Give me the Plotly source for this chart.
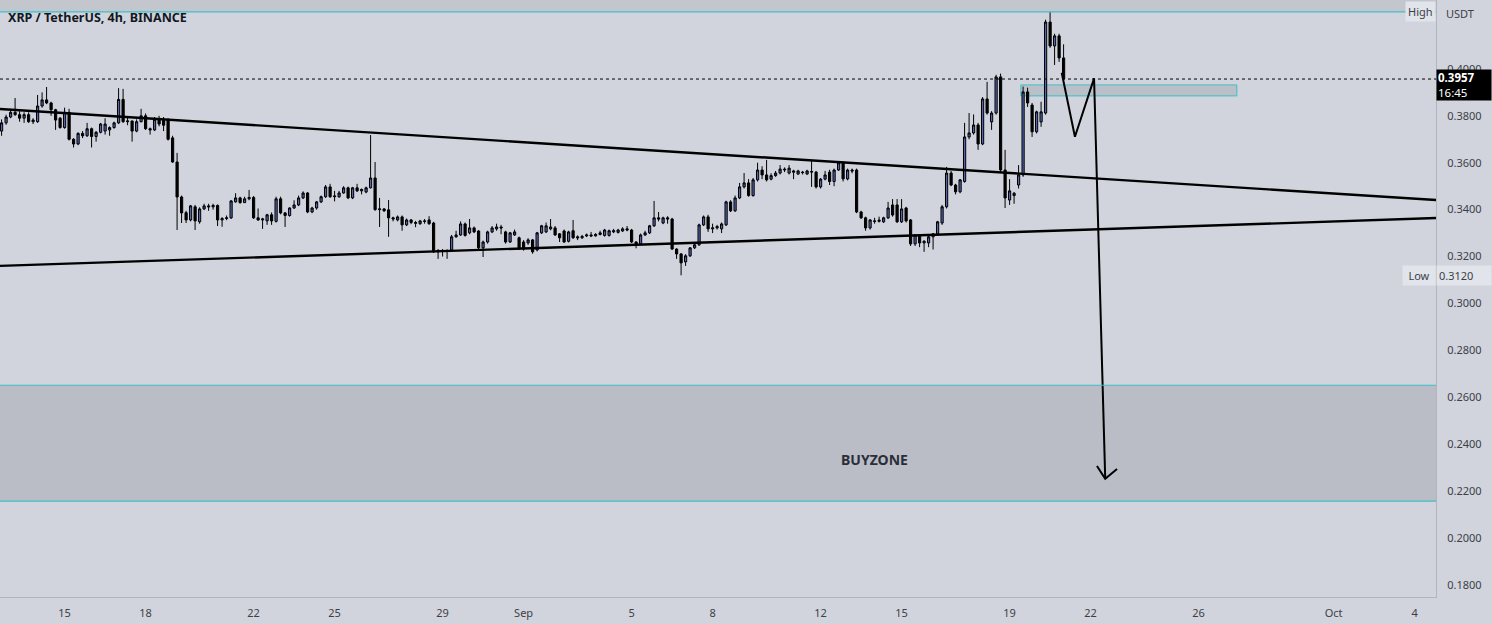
import pandas as pd
import plotly.graph_objects as go

# ---------------- data (XRP / USDT, 4h candles) ----------------
opens = [
    .3735, .3770, .3795, .3815, .3805, .3790, .3805, .3775, .3775, .3842,
    .3868, .3855, .3826, .3790, .3750, .3815, .3700, .3680, .3725, .3715,
    .3745, .3712, .3730, .3735, .3740, .3750, .3770, .3870, .3775, .3778,
    .3735, .3775, .3800, .3745, .3740, .3785, .3780, .3780, .3706, .3603,
    .3454, .3387, .3356, .3412, .3348, .3403, .3416, .3412, .3418, .3356,
    .3362, .3365, .3433, .3450, .3430, .3446, .3452, .3365, .3356, .3352,
    .3378, .3350, .3446, .3386, .3375, .3407, .3420, .3450, .3471, .3390,
    .3407, .3433, .3455, .3497, .3455, .3455, .3471, .3493, .3450, .3493,
    .3480, .3475, .3493, .3535, .3400, .3403, .3399, .3365, .3356, .3369,
    .3335, .3356, .3345, .3340, .3352, .3356, .3343, .3220, .3226, .3222,
    .3228, .3284, .3292, .3339, .3301, .3322, .3309, .3237, .3262, .3305,
    .3318, .3326, .3305, .3262, .3292, .3280, .3262, .3258, .3271, .3228,
    .3301, .3305, .3318, .3322, .3297, .3309, .3265, .3310, .3284, .3280,
    .3288, .3292, .3288, .3294, .3290, .3290, .3305, .3303, .3309, .3318,
    .3313, .3262, .3254, .3292, .3301, .3331, .3365, .3343, .3365, .3360,
    .3232, .3211, .3177, .3203, .3237, .3250, .3335, .3369, .3318, .3322,
    .3318, .3335, .3433, .3395, .3450, .3497, .3514, .3460, .3527, .3569,
    .3548, .3530, .3545, .3556, .3573, .3556, .3565, .3552, .3560, .3552,
    .3560, .3560, .3497, .3530, .3560, .3520, .3569, .3600, .3531, .3569,
    .3569, .3390, .3365, .3322, .3352, .3350, .3348, .3365, .3420, .3420,
    .3348, .3407, .3356, .3254, .3292, .3258, .3258, .3284, .3297, .3343,
    .3412, .3556, .3505, .3476, .3520, .3710, .3727, .3761, .3680, .3872,
    .3774, .3812, .3966, .3569, .3441, .3460, .3505, .3548, .3902, .3846,
    .3732, .3774, .3812, .4200, .4098, .4141, .4047,
]
highs = [
    .3785, .3805, .3830, .3876, .3820, .3815, .3815, .3790, .3889, .3900,
    .3923, .3860, .3830, .3795, .3835, .3830, .3705, .3730, .3735, .3770,
    .3750, .3735, .3770, .3790, .3755, .3775, .3918, .3915, .3795, .3780,
    .3785, .3830, .3810, .3750, .3795, .3800, .3795, .3790, .3715, .3642,
    .3460, .3395, .3420, .3420, .3410, .3425, .3425, .3425, .3422, .3368,
    .3375, .3441, .3470, .3455, .3455, .3484, .3458, .3405, .3365, .3382,
    .3388, .3455, .3455, .3390, .3410, .3440, .3460, .3478, .3475, .3412,
    .3437, .3460, .3505, .3510, .3480, .3480, .3500, .3498, .3497, .3510,
    .3490, .3498, .3718, .3603, .3450, .3407, .3441, .3370, .3375, .3375,
    .3362, .3360, .3352, .3356, .3360, .3372, .3348, .3232, .3232, .3230,
    .3292, .3310, .3350, .3345, .3360, .3328, .3312, .3268, .3310, .3330,
    .3340, .3335, .3310, .3305, .3315, .3285, .3270, .3278, .3275, .3305,
    .3335, .3345, .3360, .3330, .3300, .3315, .3310, .3356, .3290, .3292,
    .3298, .3305, .3300, .3310, .3318, .3315, .3318, .3318, .3325, .3330,
    .3318, .3265, .3298, .3310, .3335, .3437, .3390, .3370, .3372, .3365,
    .3235, .3215, .3210, .3240, .3258, .3340, .3375, .3378, .3340, .3335,
    .3345, .3438, .3440, .3460, .3514, .3556, .3530, .3535, .3600, .3585,
    .3612, .3555, .3565, .3590, .3580, .3590, .3570, .3570, .3565, .3570,
    .3612, .3565, .3535, .3565, .3570, .3575, .3605, .3605, .3575, .3575,
    .3575, .3395, .3370, .3360, .3365, .3370, .3370, .3433, .3445, .3445,
    .3445, .3412, .3360, .3296, .3296, .3270, .3288, .3300, .3352, .3420,
    .3582, .3565, .3510, .3530, .3770, .3812, .3806, .3770, .3880, .3945,
    .3820, .3975, .3980, .3655, .3530, .3475, .3590, .3925, .3920, .3855,
    .3822, .3860, .4210, .4243, .4150, .4150, .4105,
]
lows = [
    .3715, .3762, .3790, .3800, .3775, .3770, .3770, .3765, .3770, .3835,
    .3850, .3800, .3740, .3745, .3745, .3695, .3665, .3675, .3705, .3710,
    .3665, .3690, .3725, .3720, .3715, .3745, .3765, .3770, .3760, .3690,
    .3730, .3772, .3740, .3720, .3735, .3755, .3735, .3695, .3600, .3313,
    .3343, .3343, .3350, .3313, .3340, .3398, .3395, .3400, .3330, .3327,
    .3355, .3360, .3430, .3425, .3428, .3440, .3360, .3352, .3318, .3335,
    .3335, .3345, .3380, .3326, .3370, .3403, .3415, .3445, .3385, .3385,
    .3400, .3428, .3450, .3450, .3435, .3450, .3468, .3445, .3445, .3475,
    .3465, .3470, .3490, .3395, .3326, .3390, .3284, .3350, .3350, .3310,
    .3330, .3338, .3325, .3335, .3340, .3335, .3215, .3190, .3200, .3190,
    .3222, .3280, .3288, .3285, .3295, .3300, .3230, .3198, .3255, .3300,
    .3310, .3295, .3255, .3258, .3288, .3228, .3225, .3250, .3212, .3222,
    .3296, .3300, .3312, .3288, .3262, .3258, .3260, .3275, .3270, .3275,
    .3283, .3283, .3285, .3290, .3285, .3285, .3300, .3298, .3305, .3308,
    .3258, .3235, .3250, .3288, .3296, .3326, .3350, .3338, .3340, .3228,
    .3190, .3120, .3160, .3198, .3232, .3245, .3330, .3305, .3300, .3315,
    .3300, .3330, .3390, .3390, .3445, .3490, .3455, .3455, .3520, .3530,
    .3520, .3525, .3540, .3550, .3560, .3550, .3530, .3548, .3550, .3548,
    .3497, .3490, .3490, .3525, .3505, .3500, .3565, .3520, .3525, .3555,
    .3385, .3360, .3310, .3315, .3340, .3345, .3343, .3360, .3370, .3343,
    .3343, .3345, .3245, .3245, .3240, .3220, .3240, .3230, .3292, .3335,
    .3405, .3500, .3465, .3470, .3515, .3700, .3720, .3655, .3675, .3805,
    .3740, .3805, .3560, .3407, .3420, .3425, .3490, .3540, .3838, .3710,
    .3725, .3753, .3805, .4090, .4017, .4030, .3950,
]
closes = [
    .3770, .3795, .3815, .3805, .3790, .3805, .3775, .3782, .3842, .3868,
    .3855, .3826, .3782, .3750, .3815, .3700, .3680, .3725, .3715, .3745,
    .3712, .3730, .3765, .3765, .3750, .3770, .3870, .3775, .3778, .3735,
    .3775, .3800, .3745, .3740, .3785, .3765, .3760, .3700, .3603, .3454,
    .3386, .3356, .3416, .3352, .3403, .3416, .3412, .3418, .3356, .3362,
    .3365, .3437, .3450, .3430, .3446, .3452, .3365, .3356, .3360, .3378,
    .3352, .3446, .3386, .3375, .3407, .3420, .3450, .3471, .3390, .3407,
    .3433, .3455, .3497, .3455, .3458, .3471, .3493, .3450, .3493, .3480,
    .3486, .3493, .3535, .3400, .3403, .3395, .3365, .3360, .3369, .3335,
    .3356, .3345, .3342, .3352, .3350, .3340, .3220, .3226, .3222, .3226,
    .3284, .3292, .3339, .3290, .3322, .3305, .3237, .3262, .3305, .3322,
    .3326, .3322, .3262, .3301, .3305, .3232, .3232, .3271, .3220, .3301,
    .3331, .3331, .3326, .3292, .3280, .3262, .3305, .3280, .3280, .3286,
    .3292, .3288, .3294, .3301, .3313, .3310, .3310, .3313, .3318, .3313,
    .3262, .3254, .3292, .3301, .3331, .3365, .3360, .3365, .3360, .3232,
    .3211, .3173, .3203, .3237, .3250, .3335, .3369, .3318, .3322, .3328,
    .3339, .3433, .3395, .3450, .3497, .3514, .3460, .3527, .3569, .3548,
    .3527, .3545, .3556, .3573, .3570, .3577, .3560, .3565, .3558, .3565,
    .3562, .3497, .3530, .3548, .3520, .3569, .3600, .3531, .3569, .3565,
    .3390, .3365, .3322, .3356, .3350, .3355, .3365, .3407, .3377, .3348,
    .3403, .3352, .3254, .3292, .3258, .3265, .3284, .3297, .3348, .3412,
    .3556, .3505, .3476, .3527, .3710, .3727, .3761, .3680, .3872, .3812,
    .3812, .3966, .3569, .3450, .3480, .3470, .3548, .3902, .3855, .3732,
    .3817, .3817, .4200, .4098, .4141, .4047, .3957,
]
times = pd.date_range("2022-08-12 16:00", periods=len(opens), freq="4h")

x_range = ["2022-08-12 14:35", "2022-10-04 19:02"]
y_range = [0.1748, 0.4294]

price_ticks = [0.18, 0.20, 0.22, 0.24, 0.26, 0.28, 0.30, 0.32, 0.34, 0.36, 0.38, 0.40]
date_ticks = ["2022-08-15", "2022-08-18", "2022-08-22", "2022-08-25", "2022-08-29",
              "2022-09-01", "2022-09-05", "2022-09-08", "2022-09-12", "2022-09-15",
              "2022-09-19", "2022-09-22", "2022-09-26", "2022-10-01", "2022-10-04"]
date_labels = ["15", "18", "22", "25", "29", "Sep", "5", "8", "12", "15",
               "19", "22", "26", "Oct", "4"]

high_price = 0.4243
low_price = 0.3120
last_price = 0.3957
buyzone_low, buyzone_high = 0.2157, 0.2651
box_x = ["2022-09-19 10:00", "2022-09-27 10:00"]
box_y = [0.3885, 0.3932]

upper_trend_x = x_range
upper_trend_y = [0.3829, 0.3441]
lower_trend_x = x_range
lower_trend_y = [0.3160, 0.3364]
path_x = ["2022-09-20 22:20", "2022-09-21 10:05", "2022-09-22 03:05", "2022-09-22 13:00"]
path_y = [0.3984, 0.3711, 0.3960, 0.2256]
head_x = ["2022-09-22 05:40", "2022-09-22 13:00", "2022-09-22 23:30"]
head_y = [0.2307, 0.2252, 0.2294]

# ---------------- styling ----------------
BG = "#d1d4dc"
CYAN = "#3fbfc9"
TXT = "#131722"
AXT = "#3c3f48"
FONT = "Noto Sans"

fig = go.Figure()

fig.add_trace(go.Candlestick(
    x=times, open=opens, high=highs, low=lows, close=closes,
    increasing=dict(line=dict(color="#000000", width=1), fillcolor="#5565ad"),
    decreasing=dict(line=dict(color="#000000", width=1), fillcolor="#000000"),
    whiskerwidth=0, showlegend=False, hoverinfo="skip",
))

line_style = dict(color="#000000", width=2.4)
fig.add_trace(go.Scatter(x=upper_trend_x, y=upper_trend_y, mode="lines",
                         line=line_style, showlegend=False, hoverinfo="skip"))
fig.add_trace(go.Scatter(x=lower_trend_x, y=lower_trend_y, mode="lines",
                         line=line_style, showlegend=False, hoverinfo="skip"))
fig.add_trace(go.Scatter(x=path_x, y=path_y, mode="lines",
                         line=dict(color="#000000", width=2), showlegend=False, hoverinfo="skip"))
fig.add_trace(go.Scatter(x=head_x, y=head_y, mode="lines",
                         line=dict(color="#000000", width=2), showlegend=False, hoverinfo="skip"))

shapes = [
    dict(type="rect", xref="paper", x0=0, x1=1, yref="y", y0=high_price, y1=y_range[1],
         fillcolor="#c3c6cd", line=dict(width=0), layer="below"),
    dict(type="line", xref="paper", x0=0, x1=1, yref="y", y0=high_price, y1=high_price,
         line=dict(color=CYAN, width=1.2)),
    dict(type="rect", xref="paper", x0=0, x1=1, yref="y", y0=buyzone_low, y1=buyzone_high,
         fillcolor="#babdc5", line=dict(width=0), layer="below"),
    dict(type="line", xref="paper", x0=0, x1=1, yref="y", y0=buyzone_high, y1=buyzone_high,
         line=dict(color=CYAN, width=1.2)),
    dict(type="line", xref="paper", x0=0, x1=1, yref="y", y0=buyzone_low, y1=buyzone_low,
         line=dict(color=CYAN, width=1.2)),
    dict(type="rect", xref="x", x0=box_x[0], x1=box_x[1], yref="y", y0=box_y[0], y1=box_y[1],
         fillcolor="rgba(170,174,184,0.55)", line=dict(color=CYAN, width=1), layer="below"),
    dict(type="line", xref="paper", x0=0, x1=1, yref="y", y0=last_price, y1=last_price,
         line=dict(color="#000000", width=1, dash="dot")),
]

annotations = [
    dict(text="<b>XRP / TetherUS, 4h, BINANCE</b>", xref="paper", yref="paper",
         x=0, y=1, xanchor="left", yanchor="top", xshift=6, yshift=-7,
         showarrow=False, font=dict(family=FONT, size=12.5, color=TXT)),
    dict(text="<b>BUYZONE</b>", xref="x", yref="y", x="2022-09-14 00:15", y=0.2333,
         showarrow=False, font=dict(family=FONT, size=14, color="#2a2e39")),
    dict(text="<b>0.3957</b><br>16:45", xref="paper", yref="y", x=1, y=0.3930,
         xanchor="left", yanchor="middle", showarrow=False, align="left",
         bgcolor="#000000", width=52, height=28, borderpad=1,
         font=dict(family=FONT, size=11.5, color="#ffffff")),
    dict(text="USDT", xref="paper", yref="y", x=1, y=0.4237, xanchor="left", yanchor="middle",
         xshift=8, showarrow=False, font=dict(family=FONT, size=11, color=AXT)),
    dict(text="High", xref="paper", yref="y", x=1, y=high_price, xanchor="right", yanchor="middle",
         showarrow=False, bgcolor="#e1e4ea", borderpad=2,
         font=dict(family=FONT, size=11, color=AXT)),
    dict(text="Low", xref="paper", yref="y", x=1, y=low_price, xanchor="right", yanchor="middle",
         showarrow=False, bgcolor="#e1e4ea", borderpad=2, width=28,
         font=dict(family=FONT, size=11, color=AXT)),
    dict(text="0.3120", xref="paper", yref="y", x=1, y=low_price, xanchor="left", yanchor="middle",
         showarrow=False, bgcolor="#e1e4ea", borderpad=2, width=50, align="left",
         font=dict(family=FONT, size=11, color=AXT)),
]

fig.update_layout(
    width=1492, height=624,
    margin=dict(l=0, r=56, t=0, b=27),
    paper_bgcolor=BG, plot_bgcolor=BG,
    shapes=shapes, annotations=annotations,
    showlegend=False,
    font=dict(family=FONT, size=11, color=AXT),
    xaxis=dict(range=x_range, autorange=False, rangeslider=dict(visible=False),
               tickmode="array", tickvals=date_ticks, ticktext=date_labels,
               showgrid=False, zeroline=False, showline=True, linecolor="#b2b5be",
               linewidth=1, ticks="", ticklabelstandoff=6, automargin=False,
               tickfont=dict(family=FONT, size=11, color=AXT)),
    yaxis=dict(range=y_range, autorange=False, side="right",
               tickmode="array", tickvals=price_ticks, tickformat=".4f",
               showgrid=False, zeroline=False, showline=True, linecolor="#b2b5be",
               linewidth=1, ticks="", ticklabelstandoff=8, automargin=False,
               tickfont=dict(family=FONT, size=11, color=AXT)),
)

fig.write_html(
    "out.html",
    config={"displayModeBar": False},
    post_script="document.body.style.margin='0';document.body.style.overflow='hidden';",
)
